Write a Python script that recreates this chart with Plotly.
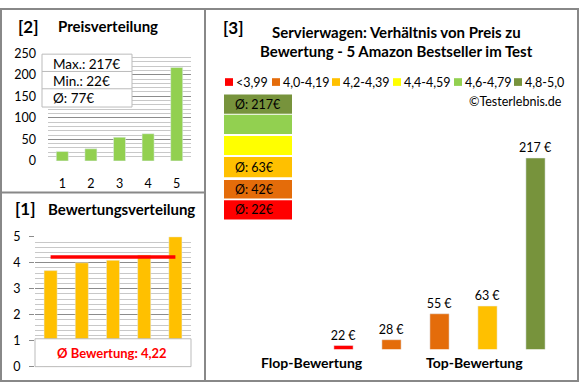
import plotly.graph_objects as go

# ---------------- data ----------------
products = [1, 2, 3, 4, 5]
prices = [22, 28, 55, 63, 217]
ratings = [3.7, 4.0, 4.1, 4.3, 5.0]
avg_rating = 4.22
rating_classes = ["<3,99", "4,0-4,19", "4,2-4,39", "4,4-4,59", "4,6-4,79", "4,8-5,0"]
class_colors = ["#FF0000", "#E46C0A", "#FFC000", "#FFFF00", "#92D050", "#77933C"]
class_bounds = [0, 4.0, 4.2, 4.4, 4.6, 4.8]
class_avg = [22, 42, 63, None, None, 217]
price_ticks = [0, 50, 100, 150, 200, 250]
rating_ticks = [0, 1, 2, 3, 4, 5]

W, H = 580, 390
FONT = "Lato"
def px(x): return x / W
def py(y): return 1 - y / H

def class_of(r):
    idx = 0
    for i, b in enumerate(class_bounds):
        if r >= b:
            idx = i
    return idx

bar_colors = [class_colors[class_of(r)] for r in ratings]

fig = go.Figure()

# top-left: price distribution
fig.add_trace(go.Bar(x=products, y=prices, marker_color="#92D050", width=0.42,
                     xaxis="x", yaxis="y", showlegend=False, hoverinfo="skip"))
# bottom-left: rating distribution
fig.add_trace(go.Bar(x=products, y=ratings, marker_color="#FFC000", width=0.42,
                     xaxis="x2", yaxis="y2", showlegend=False, hoverinfo="skip"))
fig.add_trace(go.Scatter(x=[products[0], products[-1]], y=[avg_rating, avg_rating],
                         mode="lines", line=dict(color="#FF0000", width=3.5),
                         xaxis="x2", yaxis="y2", showlegend=False, hoverinfo="skip"))
# right: price vs rating
fig.add_trace(go.Bar(x=products, y=prices, marker_color=bar_colors, width=0.4,
                     base=0, texttemplate="%{y} €", textposition="outside",
                     constraintext="none",
                     textfont=dict(size=12.5, color="#000000", family=FONT),
                     cliponaxis=False, xaxis="x3", yaxis="y3", showlegend=False, hoverinfo="skip"))

axis_font = dict(family=FONT, size=12.5, color="#000000")
fig.update_layout(
    width=W, height=H, margin=dict(l=0, r=0, t=0, b=0),
    paper_bgcolor="white", plot_bgcolor="rgba(0,0,0,0)",
    font=dict(family=FONT, size=12, color="#000000"),
    bargap=0,
    xaxis=dict(domain=[px(48), px(191)], range=[0.5, 5.5], tickvals=products,
               showgrid=False, zeroline=False, showline=False, tickfont=axis_font,
               ticklabelstandoff=14, anchor="y", fixedrange=True),
    yaxis=dict(domain=[py(159), py(47)], range=[0, 250], tickvals=price_ticks,
               gridcolor="#8C8C8C", gridwidth=1, zeroline=False, showline=False,
               minor=dict(dtick=10, showgrid=True, gridcolor="#C8C8C8", gridwidth=1),
               tickfont=axis_font, ticklabelstandoff=11, anchor="x"),
    xaxis2=dict(domain=[px(35), px(191)], range=[0.5, 5.5], showticklabels=False,
                showgrid=False, zeroline=False, showline=False, anchor="y2"),
    yaxis2=dict(domain=[py(373), py(238)], range=[0, 5], tickvals=rating_ticks,
                gridcolor="#8C8C8C", gridwidth=1, zeroline=False, showline=False,
                ticks="outside", ticklen=5, tickcolor="#8C8C8C",
                minor=dict(dtick=0.2, showgrid=True, gridcolor="#C8C8C8", gridwidth=1),
                tickfont=axis_font, ticklabelstandoff=6, anchor="x2"),
    xaxis3=dict(domain=[px(319.5), px(559.5)], range=[0.5, 5.5], visible=False, anchor="y3"),
    yaxis3=dict(domain=[py(355), py(100)], range=[18, 273], visible=False, anchor="x3"),
)

shapes = []
annotations = []
border = "#888888"
# frame
shapes.append(dict(type="rect", xref="paper", yref="paper", x0=px(1), x1=px(578), y0=py(388), y1=py(1),
                   line=dict(color=border, width=2), layer="above"))
shapes.append(dict(type="line", xref="paper", yref="paper", x0=px(205), x1=px(205), y0=py(388), y1=py(1),
                   line=dict(color=border, width=2)))
shapes.append(dict(type="line", xref="paper", yref="paper", x0=px(1), x1=px(205), y0=py(192), y1=py(192),
                   line=dict(color=border, width=2)))

def txt(x, y, s, size=12, bold=False, color="#000000", xanchor="left"):
    annotations.append(dict(xref="paper", yref="paper", x=px(x), y=py(y), text=("<b>%s</b>" % s) if bold else s,
                            showarrow=False, xanchor=xanchor, yanchor="middle",
                            font=dict(family=FONT, size=size, color=color)))

# titles left
txt(16, 19, "[2]", size=17, bold=True)
txt(56, 19, "Preisverteilung", size=15, bold=True)
txt(13, 209, "[1]", size=17, bold=True)
txt(46, 209, "Bewertungsverteilung", size=15, bold=True)

# stats box top-left
pmax = max(prices); pmin = min(prices); pavg = round(sum(prices) / len(prices))
shapes.append(dict(type="rect", xref="paper", yref="paper", x0=px(42), x1=px(132), y0=py(103), y1=py(48),
                   fillcolor="white", line=dict(color="#BBBBBB", width=1), layer="above"))
for yy in (66, 84):
    shapes.append(dict(type="line", xref="paper", yref="paper", x0=px(42), x1=px(132), y0=py(yy), y1=py(yy),
                       line=dict(color="#BBBBBB", width=1), layer="above"))
txt(51, 58, "Max.: %d€" % pmax, size=13.5)
txt(51, 76, "Min.: %d€" % pmin, size=13.5)
txt(51, 94, "Ø: %d€" % pavg, size=13.5)

# avg rating box
shapes.append(dict(type="rect", xref="paper", yref="paper", x0=px(35), x1=px(191), y0=py(373), y1=py(344),
                   fillcolor="white", line=dict(color="#BBBBBB", width=1), layer="above"))
txt(112, 359, "Ø Bewertung: " + ("%.2f" % avg_rating).replace(".", ","), size=13, bold=True,
    color="#FF0000", xanchor="center")

# right panel titles
txt(221, 20, "[3]", size=17, bold=True)
txt(396, 25, "Servierwagen: Verhältnis von Preis zu", size=15, bold=True, xanchor="center")
txt(396, 45, "Bewertung - 5 Amazon Bestseller im Test", size=15, bold=True, xanchor="center")
txt(564, 97, "©Testerlebnis.de", size=12.5, xanchor="right")

# legend row
leg_x = [225, 272, 332, 393, 454, 514]
for lx, lab, col in zip(leg_x, rating_classes, class_colors):
    shapes.append(dict(type="rect", xref="paper", yref="paper", x0=px(lx), x1=px(lx + 8), y0=py(81), y1=py(73),
                       fillcolor=col, line=dict(width=0)))
    txt(lx + 9, 77, lab, size=12.5)

# colored avg boxes
row_tops = [200, 179, 155, 133, 111, 90]
row_bots = [220, 198, 176, 153, 131, 110]
for top, bot, col, av in zip(row_tops, row_bots, class_colors, class_avg):
    shapes.append(dict(type="rect", xref="paper", yref="paper", x0=px(224), x1=px(292), y0=py(bot), y1=py(top),
                       fillcolor=col, line=dict(width=0)))
    if av is not None:
        txt(233, (top + bot) / 2, "Ø: %d€" % av, size=12.5)

txt(312, 369, "Flop-Bewertung", size=14, bold=True, xanchor="center")
txt(474, 369, "Top-Bewertung", size=14, bold=True, xanchor="center")

fig.update_layout(shapes=shapes, annotations=annotations)
fig.write_html(
    "out.html",
    config={"displayModeBar": False, "staticPlot": True},
    post_script=("document.documentElement.style.margin='0';document.documentElement.style.overflow='hidden';"
                 "document.body.style.margin='0';document.body.style.padding='0';"
                 "document.body.style.overflow='hidden';document.body.style.height='390px';"),
)
